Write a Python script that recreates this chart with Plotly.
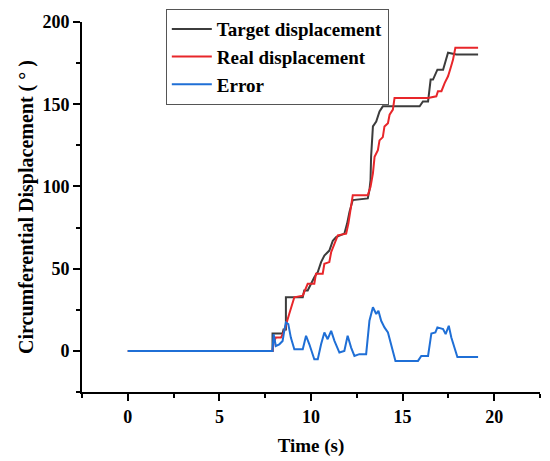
import plotly.graph_objects as go

# values
target_t = [0, 7.9, 7.9, 8.45, 8.5, 8.63, 8.63, 9.55, 9.63, 9.82, 10.18, 10.37, 10.55, 10.73,
            11.0, 11.19, 11.37, 11.82, 11.97, 12.1, 12.28, 13.1, 13.19, 13.25, 13.28, 13.38,
            13.56, 13.74, 13.92, 15.93, 16.11, 16.39, 16.53, 16.66, 16.9, 17.21, 17.48, 17.94, 19.12]
target_y = [0, 0, 10.6, 10.6, 13, 13, 32.6, 32.6, 36.7, 36.7, 44.8, 47.9, 54, 58,
            61, 67, 69.2, 71.3, 77.4, 84.5, 91.7, 92.7, 97.8, 104, 118, 136.5,
            139.5, 145.6, 148.7, 148.7, 151.7, 151.7, 165, 165, 171, 171, 181.3, 180.3, 180.3]

real_t = [0, 7.9, 7.96, 8.08, 8.36, 8.54, 8.81, 9.09, 9.55, 9.73, 9.82, 10.18, 10.27, 10.64,
          10.73, 11.0, 11.1, 11.46, 11.92, 12.04, 12.19, 12.28, 13.1, 13.25, 13.38, 13.47,
          13.65, 13.74, 13.92, 14.01, 14.2, 14.29, 14.47, 14.56, 16.39, 16.84, 16.93, 17.12,
          17.3, 17.48, 17.62, 17.75, 17.88, 19.12]
real_y = [0, 0, 5, 8.1, 8.1, 12.2, 22.4, 32.6, 33.6, 38.7, 40.8, 40.8, 46.9, 46.9,
          53, 54, 60, 70.3, 71.3, 77.4, 89.6, 94.7, 94.7, 99.8, 108, 118,
          122, 128, 130, 136.5, 138.5, 143.6, 146.7, 153.8, 153.8, 154.8, 157.9, 157.9,
          163, 167, 172, 177, 184.3, 184.3]

error_t = [0, 7.9, 7.96, 8.08, 8.27, 8.45, 8.54, 8.63, 8.76, 8.9, 9.09, 9.55, 9.73, 9.91,
           10.18, 10.37, 10.55, 10.73, 10.91, 11.1, 11.28, 11.55, 11.82, 12.0, 12.19, 12.37,
           12.64, 13.01, 13.19, 13.38, 13.56, 13.68, 13.83, 14.01, 14.2, 14.38, 14.61, 15.84,
           16.02, 16.39, 16.57, 16.79, 16.9, 17.21, 17.35, 17.52, 17.66, 17.99, 19.12]
error_y = [0, 0, 10.2, 3, 4, 6, 12.2, 17.3, 16.3, 8.1, 1, 1, 9.2, 4,
           -5.1, -5.1, 4, 11.2, 7.1, 12.2, 6.1, -1, 0, 9.2, 2, -3.1,
           -2, -2, 18.3, 26.5, 22.4, 24.4, 18.3, 14.3, 11.2, 4, -6.1, -6.1,
           -3.1, -3.1, 10.6, 11.2, 14.3, 13.3, 10.2, 15.3, 8.1, -3.7, -3.7]

FONT = "Liberation Serif"

fig = go.Figure()
fig.add_trace(go.Scatter(x=target_t, y=target_y, mode='lines', name='Target displacement',
                         line=dict(color='#3c3c3c', width=2)))
fig.add_trace(go.Scatter(x=real_t, y=real_y, mode='lines', name='Real displacement',
                         line=dict(color='#e8262a', width=2)))
fig.add_trace(go.Scatter(x=error_t, y=error_y, mode='lines', name='Error',
                         line=dict(color='#1f6fd6', width=2)))

axis_common = dict(
    showline=True, linecolor='black', linewidth=2, mirror=False,
    ticks='outside', ticklen=7, tickwidth=2, tickcolor='black',
    showgrid=False, zeroline=False, automargin=False,
    tickfont=dict(family=FONT, size=18, color='black', weight='bold'),
)

# page body adds an 8px offset, margins account for it
fig.update_layout(
    width=550, height=461,
    margin=dict(l=74, r=18, t=14, b=77, autoexpand=False),
    paper_bgcolor='white', plot_bgcolor='white',
    font=dict(family=FONT, size=18, color='black', weight='bold'),
    showlegend=True,
    legend=dict(x=0.183, y=1.035, xanchor='left', yanchor='top',
                bordercolor='#555555', borderwidth=1, bgcolor='white',
                font=dict(family=FONT, size=19, color='black', weight='bold'),
                itemwidth=40),
    xaxis=dict(range=[-2.5, 22.5], tickvals=[0, 5, 10, 15, 20],
               minor=dict(dtick=2.5, ticks='outside', ticklen=4, tickwidth=2, tickcolor='black'),
               title=dict(text='Time (s)', font=dict(family=FONT, size=19, weight='bold'), standoff=13),
               **axis_common),
    yaxis=dict(range=[-25, 200], tickvals=[0, 50, 100, 150, 200],
               minor=dict(dtick=25, ticks='outside', ticklen=4, tickwidth=2, tickcolor='black'),
               title=dict(text='Circumferential Displacement ( ° )',
                          font=dict(family=FONT, size=20, weight='bold'), standoff=3),
               **axis_common),
)

fig.write_html("out.html")
